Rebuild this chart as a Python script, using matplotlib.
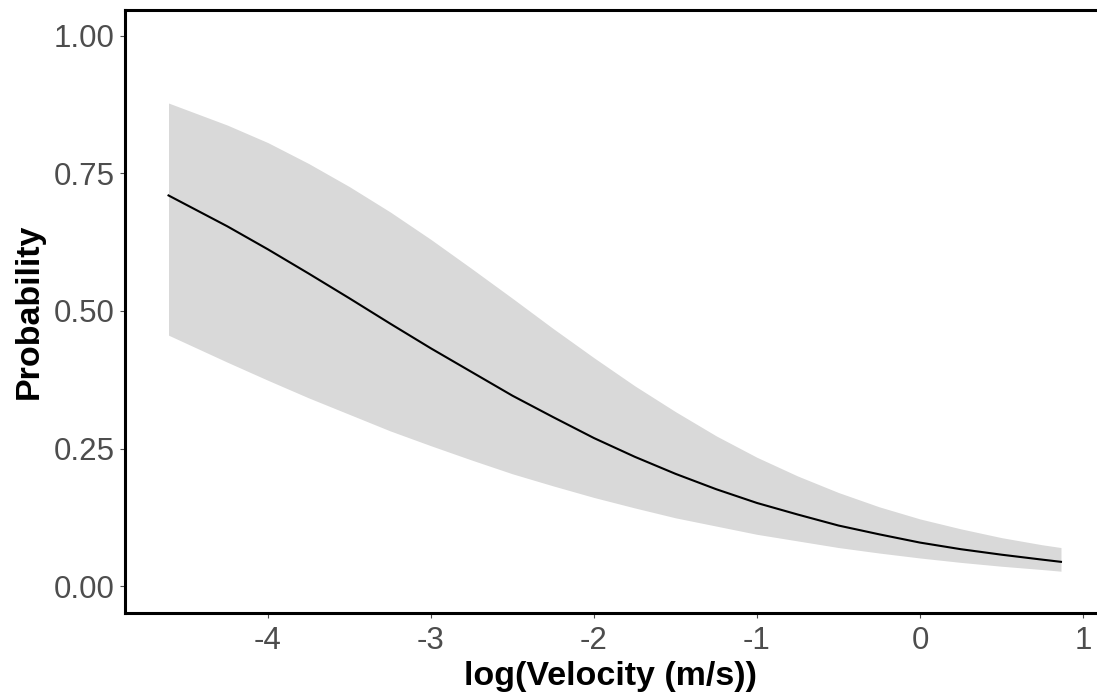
import matplotlib
matplotlib.use("Agg")
import matplotlib.pyplot as plt

plt.rcParams['font.family'] = ['Liberation Sans', 'DejaVu Sans']

# Data
x_vals = [-4.61, -4.25, -4.0, -3.75, -3.5, -3.25, -3.0, -2.75, -2.5, -2.25, -2.0,
          -1.75, -1.5, -1.25, -1.0, -0.75, -0.5, -0.25, 0.0, 0.25, 0.5, 0.75, 0.865]
prob = [0.710, 0.654, 0.612, 0.568, 0.523, 0.477, 0.432, 0.389, 0.346, 0.307, 0.269,
        0.235, 0.204, 0.176, 0.151, 0.130, 0.110, 0.094, 0.079, 0.067, 0.057, 0.048, 0.044]
upper = [0.878, 0.838, 0.806, 0.768, 0.726, 0.680, 0.630, 0.577, 0.523, 0.468, 0.415,
         0.364, 0.317, 0.273, 0.234, 0.200, 0.170, 0.144, 0.122, 0.104, 0.088, 0.075, 0.070]
lower = [0.456, 0.407, 0.374, 0.342, 0.312, 0.282, 0.255, 0.229, 0.204, 0.182, 0.161,
         0.142, 0.124, 0.109, 0.094, 0.082, 0.070, 0.060, 0.051, 0.043, 0.036, 0.030, 0.027]

x_ticks = [-4, -3, -2, -1, 0, 1]
x_ticklabels = ['-4', '-3', '-2', '-1', '0', '1']
y_ticks = [0.0, 0.25, 0.5, 0.75, 1.0]
y_ticklabels = ['0.00', '0.25', '0.50', '0.75', '1.00']

fig = plt.figure(figsize=(10.97, 6.96), dpi=100)
ax = fig.add_axes([125/1097, 1 - 613/696, 1 - 125/1097, (613 - 9.5)/696])

ax.fill_between(x_vals, lower, upper, color='#D9D9D9', linewidth=0)
ax.plot(x_vals, prob, color='black', linewidth=1.5)

ax.set_xlim(-4.877, 1.086)
ax.set_ylim(-0.049, 1.048)

ax.set_xticks(x_ticks)
ax.set_xticklabels(x_ticklabels)
ax.set_yticks(y_ticks)
ax.set_yticklabels(y_ticklabels)

for side in ['left', 'bottom', 'top']:
    ax.spines[side].set_linewidth(2.2)
    ax.spines[side].set_color('black')
ax.spines['right'].set_visible(False)

ax.tick_params(axis='both', which='major', length=3.6, width=0.8, color='#4D4D4D',
               labelcolor='#4D4D4D', labelsize=22.5)
ax.tick_params(axis='x', pad=5.5)
ax.tick_params(axis='y', pad=4)

ax.set_xlabel('log(Velocity (m/s))', fontsize=24.5, fontweight='bold', color='black', labelpad=4)
ax.set_ylabel('Probability', fontsize=24.5, fontweight='bold', color='black', labelpad=6)

fig.savefig('out.png', dpi=100)
